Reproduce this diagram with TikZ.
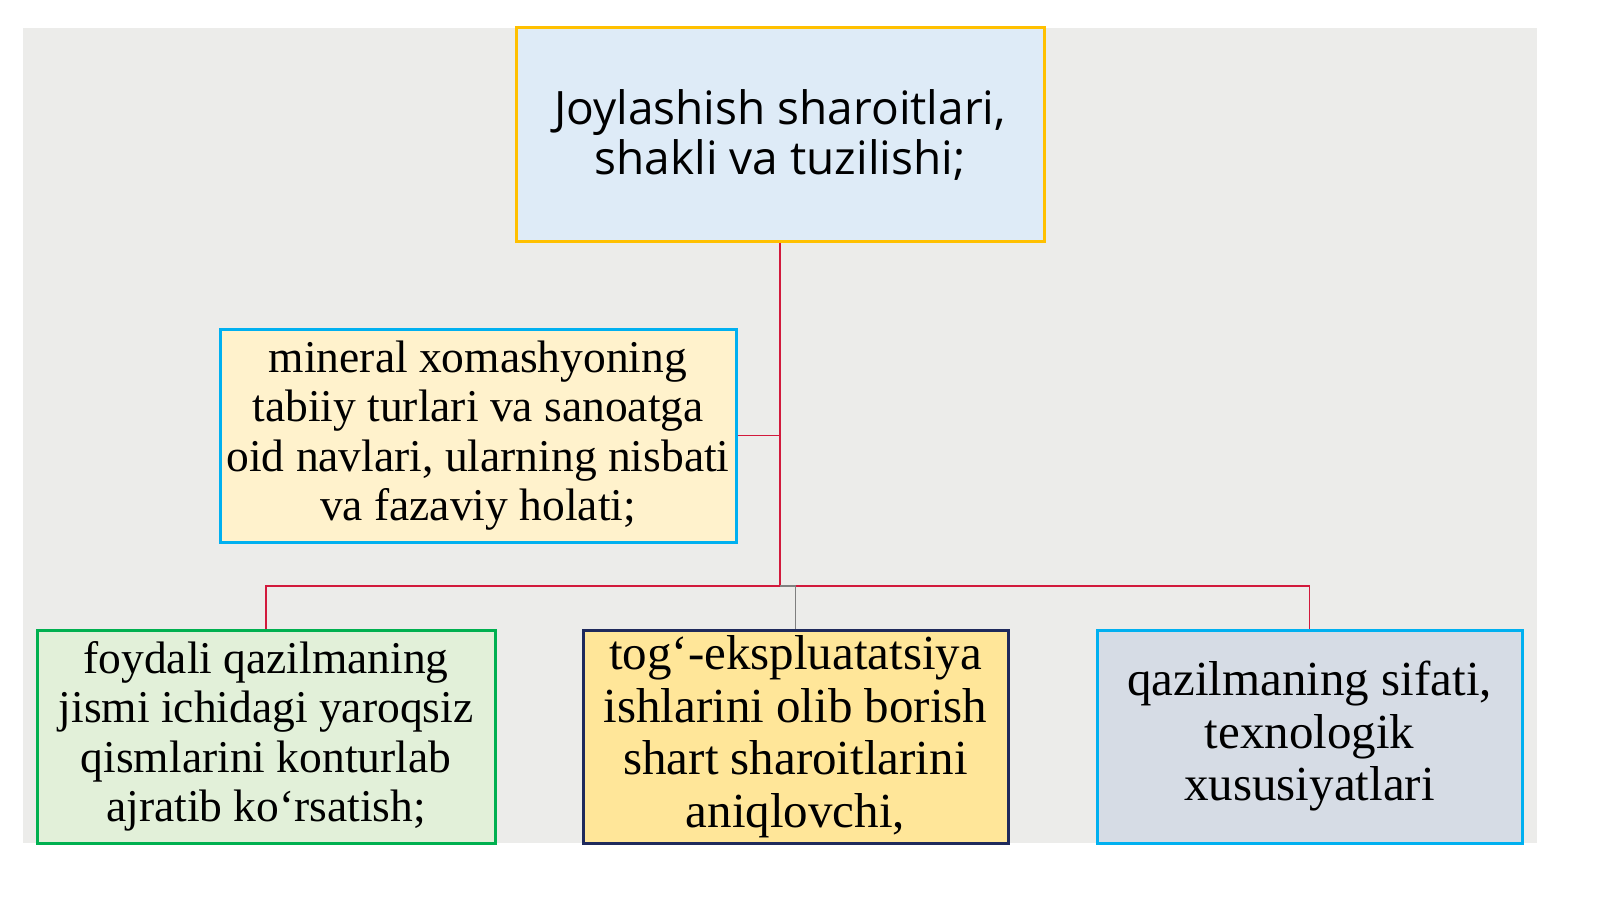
\documentclass[tikz,border=0pt]{standalone}
\usepackage{fontspec}
\setmainfont{Liberation Serif}
\newfontfamily\opensans{Open Sans}

\definecolor{paper}{RGB}{236,236,234}
\definecolor{linkred}{HTML}{D2193C}
\definecolor{linkgray}{HTML}{7F7F7F}
\definecolor{topdraw}{HTML}{FFC000}
\definecolor{topfill}{HTML}{DEEBF7}
\definecolor{cyandraw}{HTML}{00B0F0}
\definecolor{creamfill}{HTML}{FFF2CC}
\definecolor{greendraw}{HTML}{00B050}
\definecolor{greenfill}{HTML}{E2F0D9}
\definecolor{navydraw}{HTML}{1F2A5C}
\definecolor{goldfill}{HTML}{FFE699}
\definecolor{slatefill}{HTML}{D6DCE5}

\begin{document}
\begin{tikzpicture}[
        x=1pt, y=-1pt,
        % Box Styles
        basebox/.style={
            rectangle,
            line width=3pt,
            align=center,
            inner sep=0pt,
            minimum height=213pt
        },
        topbox/.style={
            basebox,
            draw=topdraw,
            fill=topfill,
            minimum width=528pt,
            font=\opensans\fontsize{46}{50}\selectfont
        },
        mineralbox/.style={
            basebox,
            draw=cyandraw,
            fill=creamfill,
            minimum width=516pt,
            font=\fontsize{45.5}{49.5}\selectfont
        },
        leftbox/.style={
            basebox,
            draw=greendraw,
            fill=greenfill,
            minimum width=458pt,
            font=\fontsize{45.5}{49.5}\selectfont
        },
        midbox/.style={
            basebox,
            draw=navydraw,
            fill=goldfill,
            minimum width=425pt,
            font=\fontsize{49}{52.5}\selectfont
        },
        rightbox/.style={
            basebox,
            draw=cyandraw,
            fill=slatefill,
            minimum width=425pt,
            font=\fontsize{49}{52.5}\selectfont
        },
        % Connector Styles
        link/.style={line width=1.5pt, draw=linkred},
        graylink/.style={line width=1.5pt, draw=linkgray}
    ]

    \useasboundingbox (0,0) rectangle (1600,899);
    \fill[paper] (23,28) rectangle (1537,843);

    % --- Top ---
    \node[topbox] (shape) at (780,134.5) {
        Joylashish sharoitlari,\\
        shakli va tuzilishi;
    };

    % --- Middle (Left) ---
    \node[mineralbox] (mineral) at (478,435.5) {
        mineral xomashyoning\\
        tabiiy turlari va sanoatga\\
        oid navlari, ularning nisbati\\
        va fazaviy holati;
    };

    % --- Bottom Row ---
    \node[leftbox] (waste) at (266,736.5) {
        foydali qazilmaning\\
        jismi ichidagi yaroqsiz\\
        qismlarini konturlab\\
        ajratib ko‘rsatish;
    };
    \node[midbox] (mining) at (795.5,736.5) {
        tog‘-ekspluatatsiya\\
        ishlarini olib borish\\
        shart sharoitlarini\\
        aniqlovchi,
    };
    \node[rightbox] (quality) at (1309.5,736.5) {
        qazilmaning sifati,\\
        texnologik\\
        xususiyatlari
    };

    % --- Paths & Connections ---
    \coordinate (bus) at (780,586);

    \draw[link] (shape.south) -- (bus);
    \draw[link] (mineral.east) -- (mineral.east -| shape.south);
    \draw[link] (bus) -| (waste.north);
    \draw[link] (bus) -| (quality.north);
    \draw[graylink] (bus) -| (mining.north);

\end{tikzpicture}
\end{document}
